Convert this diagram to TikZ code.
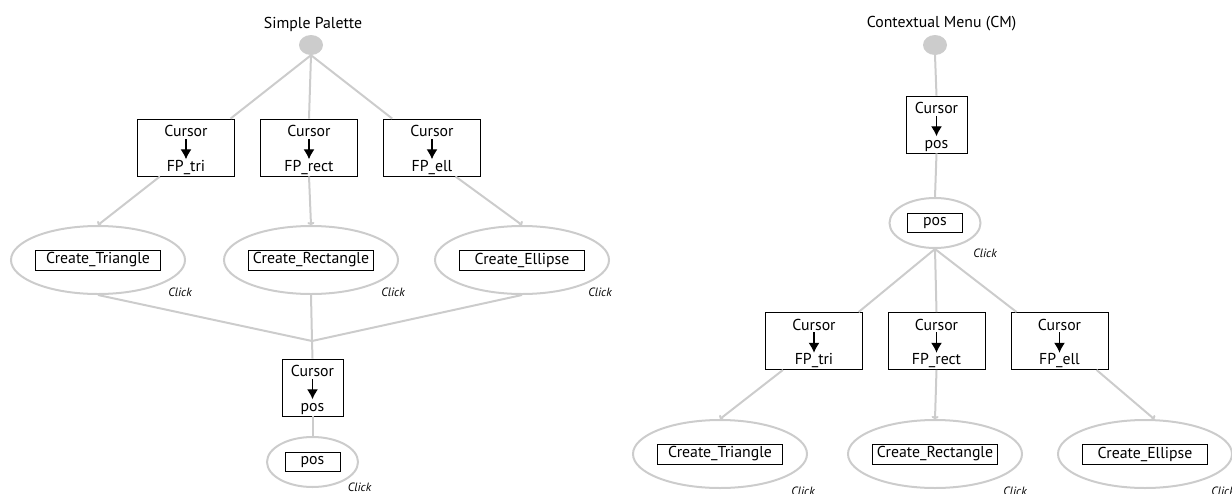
\documentclass[tikz,border=0pt]{standalone}
\usepackage{fontspec}
\setmainfont{PT Sans}
\usetikzlibrary{shapes.geometric,arrows.meta,positioning}

\definecolor{linegray}{RGB}{204,204,204}

\tikzset{
  every node/.style={font=\fontsize{15.8}{18}\selectfont},
  link/.style={draw=linegray, line width=2pt},
  flow/.style={link, -{To[length=3pt,width=7pt]}},
  cbox/.style={draw, line width=0.9pt, minimum height=57pt, inner sep=0pt},
  word/.style={anchor=base, inner sep=0pt, text height=11pt, text depth=0pt},
  state/.style={ellipse, draw=linegray, line width=2pt, minimum width=174pt, minimum height=68pt, inner sep=0pt},
  small state/.style={state, minimum width=91pt, minimum height=50pt},
  tag/.style={draw, line width=0.9pt, minimum width=125pt, minimum height=20pt, inner sep=0pt},
  click/.style={font=\fontsize{12}{13}\selectfont\itshape, inner sep=0pt},
  start/.style={ellipse, fill=linegray, minimum width=24pt, minimum height=20pt, inner sep=0pt},
}

% box with "Cursor" -> label
\newcommand{\cursorbox}[4]{%
  \node[cbox, minimum width=#3] (#1) at (#2) {};
  \node[word] (#1t) at ([yshift=-18pt]#1.north) {Cursor};
  \node[word] (#1b) at ([yshift=5pt]#1.south) {#4};
  \draw[line width=1.2pt, -{Latex[length=10pt,width=11pt]}, shorten <=2pt, shorten >=1pt] (#1t.south) -- (#1b.north);
}

\begin{document}
\begin{tikzpicture}[x=1pt, y=-1pt]
  \useasboundingbox (0,0) rectangle (1232,493);

  % Simple Palette
  \node (sptitle) at (313,24) {Simple Palette};
  \node[start] (sp) at (311,45) {};

  \cursorbox{c1}{186,147.5}{97pt}{FP\_tri}
  \cursorbox{c2}{309,147.5}{97pt}{FP\_rect}
  \cursorbox{c3}{432,147.5}{97pt}{FP\_ell}

  \draw[link] (sp.south) -- (c1.33);
  \draw[link] (sp.south) -- (c2.north);
  \draw[link] (sp.south) -- (c3.144);

  \node[state] (e1) at (98,260) {};
  \node[state] (e2) at (311,260) {};
  \node[state] (e3) at (522,260) {};
  \node[tag] (e1t) at (e1) {Create\_Triangle};
  \node[tag] (e2t) at (e2) {Create\_Rectangle};
  \node[tag] (e3t) at (e3) {Create\_Ellipse};
  \node[click] (k1) at ([shift={(82,32)}]e1.center) {Click};
  \node[click] (k2) at ([shift={(82,32)}]e2.center) {Click};
  \node[click] (k3) at ([shift={(78,32)}]e3.center) {Click};

  \draw[flow] (c1.-132) -- (e1.north);
  \draw[flow] (c2.south) -- (e2.north);
  \draw[flow] (c3.-51) -- (e3.north);

  \cursorbox{cp}{312.5,387.5}{61pt}{pos}
  \coordinate (join) at (312,341);
  \draw[link] (e1.south) -- (join);
  \draw[link] (e2.south) -- (join);
  \draw[link] (e3.south) -- (join);
  \draw[link] (join) -- (cp.north);

  \node[small state] (pe) at (312.5,462) {};
  \node[tag, minimum width=55pt, minimum height=19pt] (pet) at (pe) {pos};
  \node[click] (kp) at ([shift={(47,25)}]pe.center) {Click};
  \draw[link] (cp.south) -- (pe.north);

  % Contextual Menu
  \node (cmtitle) at (941.5,24) {Contextual Menu (CM)};
  \node[start] (cm) at (935,45) {};

  \cursorbox{rcp}{936.5,124.5}{61pt}{pos}
  \draw[link] (cm.south) -- (rcp.north);

  \node[small state] (rp) at (935,223) {};
  \node[tag, minimum width=55pt, minimum height=19pt] (rpt) at (rp) {pos};
  \node[click] (krp) at ([shift={(50,30)}]rp.center) {Click};
  \draw[link] (rcp.south) -- (rp.north);

  \cursorbox{rc1}{814,341}{97pt}{FP\_tri}
  \cursorbox{rc2}{936.5,341}{97pt}{FP\_rect}
  \cursorbox{rc3}{1059.5,341}{97pt}{FP\_ell}

  \draw[link] (rp.south) -- (rc1.33);
  \draw[link] (rp.south) -- (rc2.north);
  \draw[link] (rp.south) -- (rc3.146);

  \node[state] (re1) at (720,454) {};
  \node[state] (re2) at (935,454) {};
  \node[state] (re3) at (1145,454) {};
  \node[tag] (re1t) at (re1) {Create\_Triangle};
  \node[tag] (re2t) at (re2) {Create\_Rectangle};
  \node[tag] (re3t) at (re3) {Create\_Ellipse};
  \node[click] (rk1) at ([shift={(83,37)}]re1.center) {Click};
  \node[click] (rk2) at ([shift={(80,37)}]re2.center) {Click};
  \node[click] (rk3) at ([shift={(78,37)}]re3.center) {Click};

  \draw[flow] (rc1.-137) -- (re1.north);
  \draw[flow] (rc2.south) -- (re2.north);
  \draw[flow] (rc3.-38) -- (re3.75);
\end{tikzpicture}
\end{document}
